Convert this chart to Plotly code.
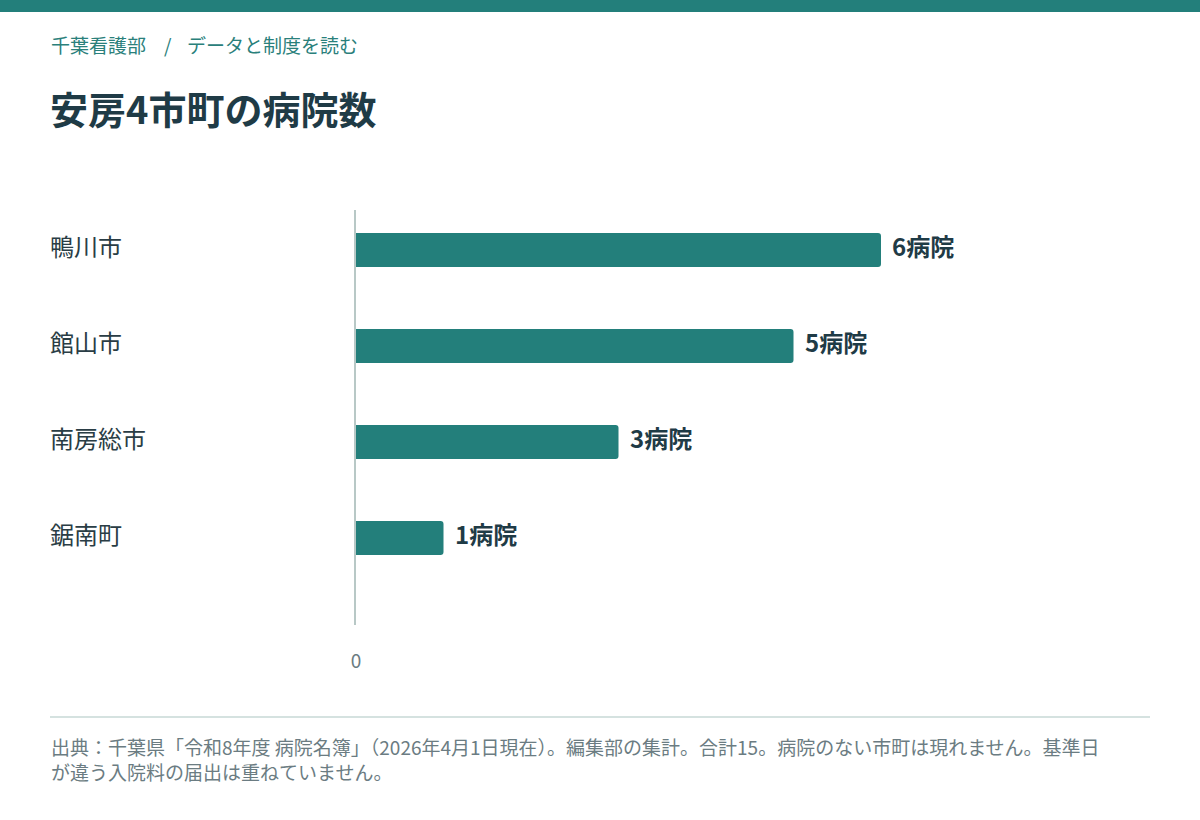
import plotly.graph_objects as go

categories = ["鴨川市", "館山市", "南房総市", "鋸南町"]
hospitals = [6, 5, 3, 1]
value_labels = ["6病院", "5病院", "3病院", "1病院"]
x_ticks = [0]

W, H = 1200, 820
L, R, T, B = 356, 50, 210, 195
PW = W - L - R
PH = H - T - B

def px_x(x):
    return (x - L) / PW

def px_y(y):
    return (H - B - y) / PH

TEAL = "#237f7b"
DARK = "#1f3b46"
GRAY = "#6b7c82"
FONT = "Noto Sans CJK JP"

fig = go.Figure()
fig.add_trace(go.Bar(
    x=hospitals, y=categories, orientation="h",
    marker=dict(color=TEAL, cornerradius=3, line=dict(width=0)),
    width=0.354, hoverinfo="skip",
))

unit_px = 87.5
x_max = PW / unit_px

fig.update_layout(
    width=W, height=H,
    margin=dict(l=L, r=R, t=T, b=B),
    paper_bgcolor="white", plot_bgcolor="white",
    showlegend=False,
    font=dict(family=FONT, color=DARK),
    xaxis=dict(range=[0, x_max], tickvals=x_ticks, ticktext=[str(v) for v in x_ticks],
               showgrid=False, zeroline=False, showline=False,
               ticks="outside", ticklen=19, tickcolor="rgba(0,0,0,0)",
               tickfont=dict(size=19, color=GRAY, family=FONT), fixedrange=True),
    yaxis=dict(range=[3.906, -0.417], showticklabels=False, showgrid=False,
               zeroline=False, showline=True, linecolor="#b8c8c6", linewidth=2,
               fixedrange=True),
)

shapes = [
    dict(type="rect", xref="paper", yref="paper", x0=px_x(0), x1=px_x(W),
         y0=px_y(12), y1=px_y(0), fillcolor="#237f7b", line=dict(width=0), layer="above"),
    dict(type="line", xref="paper", yref="paper", x0=px_x(50), x1=px_x(1150),
         y0=px_y(717), y1=px_y(717), line=dict(color="#d5e2e0", width=2)),
]
fig.update_layout(shapes=shapes)

crumb_font = dict(size=19, color="#2a807b", family=FONT)
ann = []
ann.append(dict(xref="paper", yref="paper", x=px_x(49), y=px_y(44), xanchor="left", yanchor="middle",
                text="千葉看護部", showarrow=False, font=crumb_font))
ann.append(dict(xref="paper", yref="paper", x=px_x(168), y=px_y(44), xanchor="center", yanchor="middle",
                text="/", showarrow=False, font=crumb_font))
ann.append(dict(xref="paper", yref="paper", x=px_x(185), y=px_y(44), xanchor="left", yanchor="middle",
                text="データと制度を読む", showarrow=False, font=crumb_font))
ann.append(dict(xref="paper", yref="paper", x=px_x(48), y=px_y(108), xanchor="left", yanchor="middle",
                text="<b>安房4市町の病院数</b>", showarrow=False,
                font=dict(size=38, color=DARK, family=FONT)))
for c, v, t in zip(categories, hospitals, value_labels):
    ann.append(dict(xref="paper", yref="y", x=px_x(48), y=c, xanchor="left", yanchor="middle",
                    yshift=5, text=c, showarrow=False,
                    font=dict(size=24, color="#2a3d45", family=FONT)))
    ann.append(dict(xref="x", yref="y", x=v, y=c, xanchor="left", yanchor="middle", xshift=9,
                    yshift=5, text="<b>" + t + "</b>", showarrow=False,
                    font=dict(size=24, color=DARK, family=FONT)))
ann.append(dict(xref="paper", yref="paper", x=px_x(49), y=px_y(759), xanchor="left", yanchor="middle",
                align="left",
                text="出典：千葉県「令和8年度 病院名簿」（2026年4月1日現在）。編集部の集計。合計15。病院のない市町は現れません。基準日<br>が違う入院料の届出は重ねていません。",
                showarrow=False, font=dict(size=19, color=GRAY, family=FONT)))
fig.update_layout(annotations=ann)

fig.write_html("out.html", config={"displayModeBar": False},
               post_script="document.body.style.margin='0px';")
